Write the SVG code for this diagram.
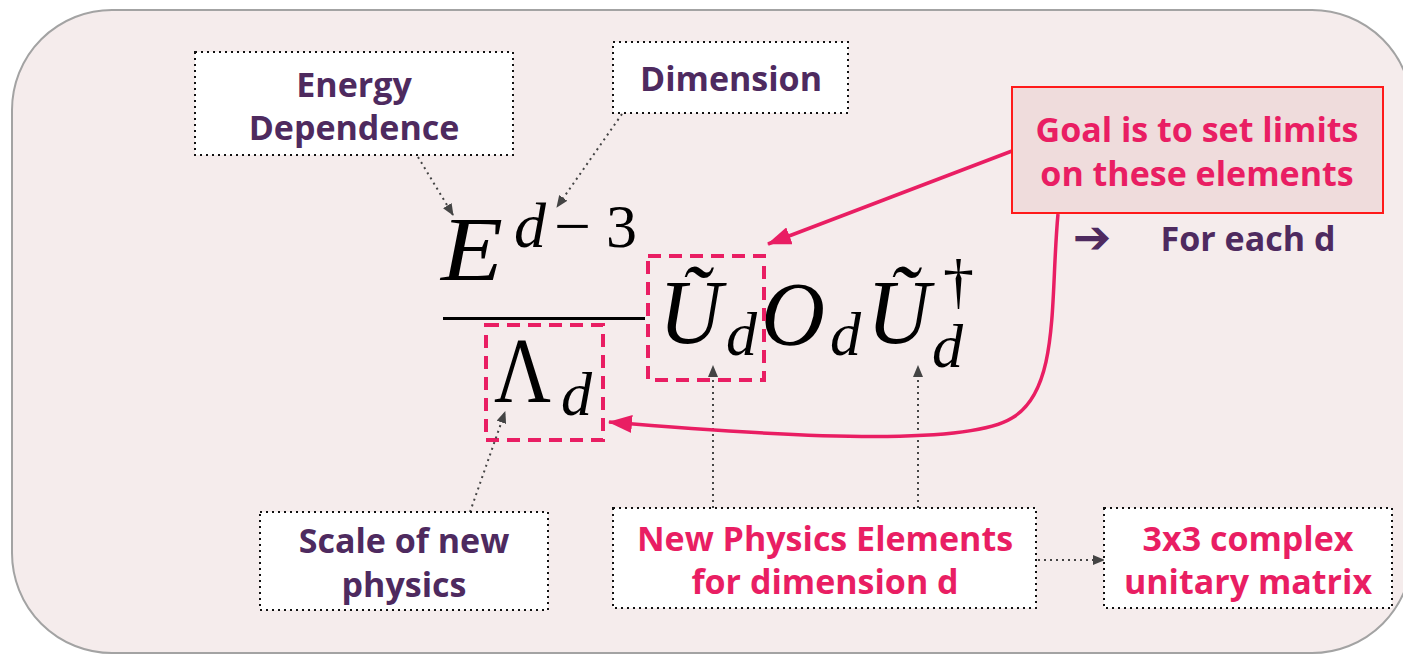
<svg xmlns="http://www.w3.org/2000/svg" width="1403" height="655" viewBox="0 0 1403 655">
<style>
.lbl{font-family:"Open Sans","Liberation Sans",sans-serif;font-weight:700;font-size:34px;text-anchor:middle}
.pur{fill:#4e2a5f}
.pink{fill:#e91e63}
.dotbox{fill:#ffffff;stroke:#111;stroke-width:2;stroke-dasharray:2 4}
.pdash{fill:none;stroke:#e91e63;stroke-width:4;stroke-dasharray:13 8}
.math{font-family:"Liberation Serif","DejaVu Serif",serif;fill:#000}
.it{font-style:italic}
.dotarrow{fill:none;stroke:#444;stroke-width:2;stroke-dasharray:2 4}
.parrow{fill:none;stroke:#e91e63;stroke-width:3.5}
</style>
<defs>
<marker id="ahGray" markerWidth="12" markerHeight="10" refX="11" refY="5" orient="auto" markerUnits="userSpaceOnUse">
<path d="M0,0 L12,5 L0,10 z" fill="#444"/>
</marker>
<marker id="ahPink" markerWidth="24" markerHeight="18" refX="23" refY="9" orient="auto" markerUnits="userSpaceOnUse">
<path d="M0,0 L24,9 L0,18 z" fill="#e91e63"/>
</marker>
</defs>

<rect id="background" x="12" y="10" width="1400" height="643" rx="100" ry="100" fill="#f5ecec" stroke="#a3a3a3" stroke-width="2"/>

<g id="formula">
<text class="math it" x="441" y="280" font-size="92" textLength="62" lengthAdjust="spacingAndGlyphs">E</text>
<text class="math it" x="514" y="247" font-size="64">d</text>
<text class="math" x="554" y="247" font-size="62" textLength="37" lengthAdjust="spacingAndGlyphs">−</text>
<text class="math" x="606" y="247" font-size="62">3</text>
<rect x="443" y="317" width="202" height="3" fill="#000"/>
<text class="math" x="494" y="402" font-size="94" textLength="57" lengthAdjust="spacingAndGlyphs">Λ</text>
<text class="math it" x="561" y="415" font-size="62">d</text>
<text class="math it" x="659" y="343" font-size="92" textLength="63" lengthAdjust="spacingAndGlyphs">Ũ</text>
<text class="math it" x="726" y="355" font-size="62">d</text>
<text class="math it" x="761" y="345" font-size="92" textLength="64" lengthAdjust="spacingAndGlyphs">O</text>
<text class="math it" x="830" y="355" font-size="62">d</text>
<text class="math it" x="867" y="343" font-size="92" textLength="63" lengthAdjust="spacingAndGlyphs">Ũ</text>
<text class="math" x="943" y="302" font-size="62">†</text>
<text class="math it" x="932" y="367" font-size="62">d</text>
</g>

<g id="highlight-boxes">
<rect id="box-lambda" class="pdash" x="486" y="325" width="117" height="115"/>
<rect id="box-U" class="pdash" x="648" y="256" width="116" height="124"/>
</g>

<g id="connectors">
<path class="dotarrow" d="M418,157 L453,215" marker-end="url(#ahGray)"/>
<path class="dotarrow" d="M622,114 L557,207" marker-end="url(#ahGray)"/>
<path class="dotarrow" d="M470,512 L505,412" marker-end="url(#ahGray)"/>
<path class="dotarrow" d="M713,508 L713,366" marker-end="url(#ahGray)"/>
<path class="dotarrow" d="M918,508 L918,366" marker-end="url(#ahGray)"/>
<path class="dotarrow" d="M1038,560 L1104,560" marker-end="url(#ahGray)"/>
<path class="parrow" d="M1012,151 L768,244" marker-end="url(#ahPink)"/>
<path class="parrow" d="M1058,214 C1050,300 1060,390 1012,418 C970,444 820,440 609,422" marker-end="url(#ahPink)"/>
</g>

<g id="energy">
<rect class="dotbox" x="195" y="52" width="318" height="103"/>
<text class="lbl pur" x="354" y="97">Energy</text>
<text class="lbl pur" x="354" y="140">Dependence</text>
</g>

<g id="dimension">
<rect class="dotbox" x="613" y="42" width="235" height="71"/>
<text class="lbl pur" x="731" y="91">Dimension</text>
</g>

<g id="goal">
<rect x="1012" y="87" width="371" height="126" fill="#efdcdc" stroke="#ff1a1a" stroke-width="2"/>
<text class="lbl pink" x="1197" y="142">Goal is to set limits</text>
<text class="lbl pink" x="1197" y="186">on these elements</text>
</g>

<g id="for-each">
<text x="1092" y="253" font-family="DejaVu Sans,sans-serif" font-size="46" fill="#4e2a5f" text-anchor="middle">➔</text>
<text class="lbl pur" x="1248" y="251">For each d</text>
</g>

<g id="scale">
<rect class="dotbox" x="260" y="512" width="288" height="98"/>
<text class="lbl pur" x="404" y="553">Scale of new</text>
<text class="lbl pur" x="404" y="597">physics</text>
</g>

<g id="new-physics">
<rect class="dotbox" x="613" y="508" width="423" height="100"/>
<text class="lbl pink" x="825" y="551">New Physics Elements</text>
<text class="lbl pink" x="825" y="594">for dimension d</text>
</g>

<g id="unitary">
<rect class="dotbox" x="1104" y="508" width="288" height="100"/>
<text class="lbl pink" x="1248" y="551">3x3 complex</text>
<text class="lbl pink" x="1248" y="594">unitary matrix</text>
</g>
</svg>
